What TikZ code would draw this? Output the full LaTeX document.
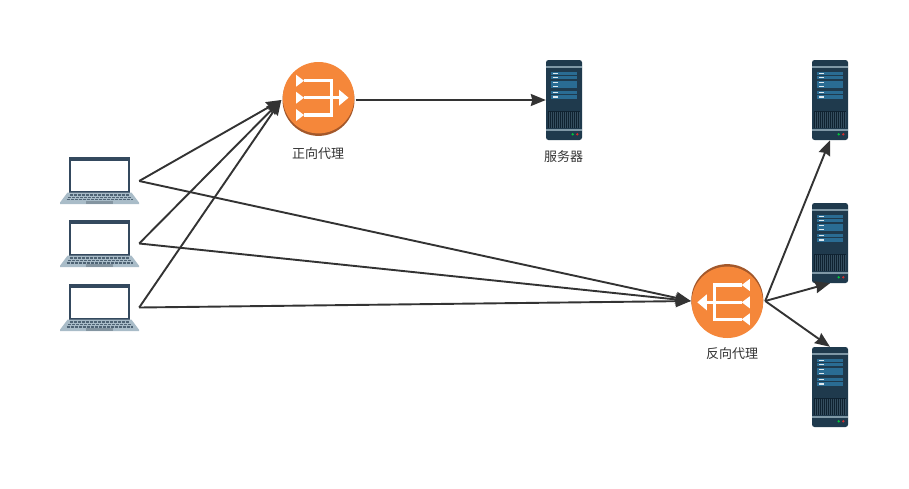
\documentclass[tikz,border=0pt]{standalone}
\usepackage{fontspec}
\setmainfont{Noto Sans CJK SC}
\usetikzlibrary{arrows.meta}
\definecolor{srvdark}{HTML}{1F3A4D}
\definecolor{srvbar}{HTML}{7F98A6}
\definecolor{srvpanel}{HTML}{2A6C93}
\definecolor{srvgrill}{HTML}{0F2230}
\definecolor{lapframe}{HTML}{34495E}
\definecolor{lapbase}{HTML}{A9BCC8}
\definecolor{lapkey}{HTML}{4F6475}
\definecolor{lappad}{HTML}{8495A1}
\definecolor{orangeface}{HTML}{F5873A}
\definecolor{orangeedge}{HTML}{A3582B}
\definecolor{linkcol}{HTML}{333333}
\definecolor{labelcol}{HTML}{333333}
\tikzset{
  x=1pt,y=-1pt,
  link/.style={draw=linkcol,line width=1.9pt,-{Stealth[length=15pt,width=12pt,inset=1.5pt]}},
  laptopbox/.style={minimum width=79pt,minimum height=47pt,inner sep=0pt},
  serverbox/.style={minimum width=36pt,minimum height=80pt,inner sep=0pt},
  proxybox/.style={minimum width=74pt,minimum height=72pt,inner sep=0pt},
  caption/.style={font=\fontsize{13}{15}\selectfont,text=labelcol,inner sep=0pt},
  pics/laptop/.style={code={
    \fill[lapframe] (-30.5,-23.5) rectangle (30.5,12);
    \fill[white] (-28.3,-19.5) rectangle (28.2,10.5);
    \fill[lapbase] (-32,12) -- (32,12) -- (39.5,22) -- (39.5,23.5) -- (-39.5,23.5) -- (-39.5,22) -- cycle;
    \foreach \yy/\xa/\xb in {14.5/-30/30,16.8/-31.5/31.5,19/-33/33}{
      \draw[lapkey,line width=1.6pt,dash pattern=on 3pt off 1pt] (\xa,\yy) -- (\xb,\yy);
    }
    \fill[lappad] (-13.5,20.3) rectangle (13.5,23);
  }},
  pics/server/.style={code={
    \fill[srvdark,rounded corners=2.5pt] (-18,-40) rectangle (18,40);
    \fill[srvbar] (-18,-34) rectangle (18,-32.3);
    \fill[srvbar] (-18,29) rectangle (18,31);
    \foreach \ya/\yb in {-28.3/-25,-24.3/-21,-19.3/-16,-15.7/-12.3,-9/-5.7,-5/-1}{
      \fill[srvpanel] (-13,\ya) rectangle (13,\yb);
      \fill[white!85!srvpanel] (-11.5,\ya+1.2) rectangle (-6,\yb-1.2);
    }
    \fill[srvgrill] (-16,11) rectangle (16,28);
    \foreach \xx in {-15,-13,-11,-9,-7,-5,-3,-1,1,3,5,7,9,11,13,15}{
      \draw[srvdark!90!white,line width=.6pt] (\xx,11.5) -- (\xx,27.5);
    }
    \fill[green!55!teal] (8.7,34.3) circle (1.3pt);
    \fill[red!65!gray] (13.3,34.3) circle (1.3pt);
  }},
  pics/proxyglyph/.style={code={
    \fill[orangeedge] (0,2.2) circle (36pt);
    \fill[orangeface] (0,0) circle (35.7pt);
    \draw[white,line width=3.2pt] (-15,-17) -- (13.2,-17) -- (13.2,17.3) -- (-15,17.3);
    \draw[white,line width=3.2pt] (-15,0) -- (22,0);
    \fill[white] (-22.5,-23) -- (-14.5,-17) -- (-22.5,-11) -- cycle;
    \fill[white] (-22.5,-6) -- (-14.5,0) -- (-22.5,6) -- cycle;
    \fill[white] (-22.5,11.3) -- (-14.5,17.3) -- (-22.5,23.3) -- cycle;
    \fill[white] (20.5,-8) -- (30,0) -- (20.5,8) -- cycle;
  }}
}
\begin{document}
\begin{tikzpicture}
\useasboundingbox[fill=white] (0,0) rectangle (909,488);
\pic at (99.5,180.5) {laptop};
\pic at (99.5,243.7) {laptop};
\pic at (99.5,307.7) {laptop};
\pic at (564,100) {server};
\pic at (830,100) {server};
\pic at (830,243) {server};
\pic at (830,387) {server};
\pic at (318.5,97.7) {proxyglyph};
\pic[rotate=180] at (727.3,302.3) {proxyglyph};
\node[laptopbox] (l1) at (99.5,181) {};
\node[laptopbox] (l2) at (99.5,243.5) {};
\node[laptopbox] (l3) at (99.5,307.5) {};
\node[serverbox] (s0) at (564,100) {};
\node[serverbox] (s1) at (830,100) {};
\node[serverbox] (s2) at (830,243) {};
\node[serverbox] (s3) at (830,387) {};
\node[proxybox] (fp) at (318.5,100) {};
\node[proxybox] (rp) at (728,301) {};
\node[caption] (fpl) at (318,154) {正向代理};
\node[caption] (s0l) at (563.5,156.7) {服务器};
\node[caption] (rpl) at (732,353.8) {反向代理};
\draw[link] (l1.east) -- (fp.west);
\draw[link] (l2.east) -- (fp.west);
\draw[link] (l3.east) -- (fp.west);
\draw[link] (l1.east) -- (rp.west);
\draw[link] (l2.east) -- (rp.west);
\draw[link] (l3.east) -- (rp.west);
\draw[link] (fp.east) -- (s0.west);
\draw[link] (rp.east) -- (s1.south);
\draw[link] (rp.east) -- (s2.south);
\draw[link] (rp.east) -- (s3.north);
\end{tikzpicture}
\end{document}
